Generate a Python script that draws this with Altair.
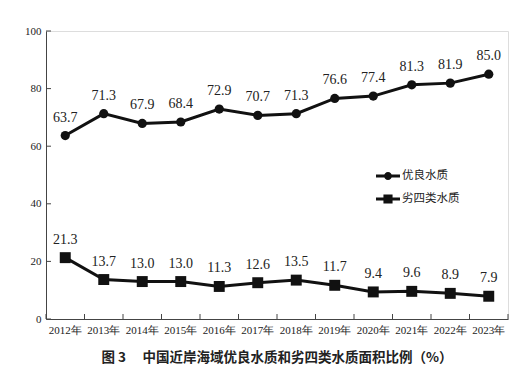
import altair as alt
import pandas as pd

years = ["2012年", "2013年", "2014年", "2015年", "2016年", "2017年",
         "2018年", "2019年", "2020年", "2021年", "2022年", "2023年"]
good = [63.7, 71.3, 67.9, 68.4, 72.9, 70.7, 71.3, 76.6, 77.4, 81.3, 81.9, 85.0]
bad = [21.3, 13.7, 13.0, 13.0, 11.3, 12.6, 13.5, 11.7, 9.4, 9.6, 8.9, 7.9]
series_names = ["优良水质", "劣四类水质"]
y_ticks = [0, 20, 40, 60, 80, 100]
title_text = "图 3　 中国近岸海域优良水质和劣四类水质面积比例（%）"

rows = []
for name, vals in zip(series_names, [good, bad]):
    for y, v in zip(years, vals):
        rows.append({"year": y, "value": v, "series": name, "label": f"{v:.1f}"})
df = pd.DataFrame(rows)
tick_df = pd.DataFrame({"t": y_ticks})
year_df = pd.DataFrame({"year": years})

NUM_FONT = "Liberation Serif"
CJK_FONT = "Noto Sans CJK SC"
W, H = 462, 288

xscale = alt.Scale(type="band", domain=years, paddingInner=0, paddingOuter=0)
yscale = alt.Scale(domain=[0, 100])

x_enc = alt.X("year:N", scale=xscale, bandPosition=0.5,
              axis=alt.Axis(title=None, labelAngle=0, tickSize=0, labelPadding=5,
                            labelFont=NUM_FONT, labelFontSize=11, labelColor="#222",
                            domainColor="#444", domainWidth=1))
y_enc = alt.Y("value:Q", scale=yscale,
              axis=alt.Axis(title=None, values=y_ticks, tickSize=0, labelPadding=5,
                            labelFont=NUM_FONT, labelFontSize=11, labelColor="#222",
                            domainColor="#444", domainWidth=1, grid=False))

base = alt.Chart(df).encode(x=x_enc, y=y_enc, detail="series:N")

lines = base.mark_line(color="#111", strokeWidth=3)
circles = base.transform_filter(alt.datum.series == series_names[0]).mark_point(
    shape="circle", filled=True, color="#111", size=85, opacity=1)
squares = base.transform_filter(alt.datum.series == series_names[1]).mark_point(
    shape="square", filled=True, color="#111", size=120, opacity=1)
labels = base.mark_text(dy=-18, font=NUM_FONT, fontSize=14, color="#222").encode(
    text="label:N")

legend_paths = [
    "M-1,-0.12H1V0.12H-1Z M-0.33,0A0.33,0.33 0 1,1 0.33,0A0.33,0.33 0 1,1 -0.33,0Z",
    "M-1,-0.12H1V0.12H-1Z M-0.38,-0.38H0.38V0.38H-0.38Z",
]
legend_layer = base.mark_point(filled=True, opacity=0, color="#111").encode(
    shape=alt.Shape("series:N",
                    scale=alt.Scale(domain=series_names, range=legend_paths),
                    legend=alt.Legend(title=None, orient="none", legendX=330, legendY=133,
                                      symbolSize=576, symbolOpacity=1,
                                      symbolFillColor="#111", symbolStrokeWidth=0,
                                      labelFont=CJK_FONT, labelFontSize=11.5,
                                      labelColor="#222", labelOffset=2,
                                      rowPadding=5)))

ytick_rules = alt.Chart(tick_df).mark_rule(color="#444", strokeWidth=1).encode(
    y=alt.Y("t:Q", scale=yscale), x=alt.value(0), x2=alt.value(5))
xtick_rules = alt.Chart(year_df).mark_rule(color="#444", strokeWidth=1).encode(
    x=alt.X("year:N", scale=xscale, bandPosition=0), y=alt.value(H), y2=alt.value(H - 5))
xtick_end = alt.Chart(year_df).transform_filter(alt.datum.year == years[-1]).mark_rule(
    color="#444", strokeWidth=1).encode(
    x=alt.X("year:N", scale=xscale, bandPosition=1), y=alt.value(H), y2=alt.value(H - 5))

chart = alt.layer(
    lines, circles, squares, labels, legend_layer, ytick_rules, xtick_rules, xtick_end
).properties(
    width=W, height=H,
    title=alt.TitleParams(title_text, orient="bottom", anchor="middle", offset=16,
                          font=CJK_FONT, fontSize=13.5, fontWeight="bold", color="#222"),
    autosize=alt.AutoSizeParams(type="none"),
    padding={"left": 38, "top": 23, "right": 16, "bottom": 52},
).configure_view(stroke=None).configure(background="white")

chart.save("out.html", embed_options={"renderer": "svg", "actions": False})
